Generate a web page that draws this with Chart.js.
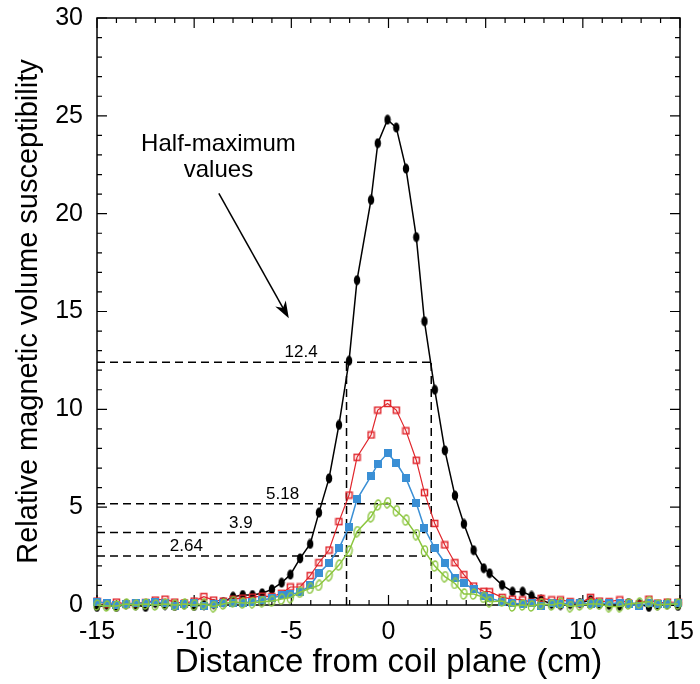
<!DOCTYPE html>
<html>
<head>
<meta charset="utf-8">
<script src="https://cdn.jsdelivr.net/npm/chart.js@4.4.0/dist/chart.umd.min.js"></script>
<style>
html, body { margin: 0; padding: 0; background: #fff; }
#wrap { width: 700px; height: 684px; }
</style>
</head>
<body>
<div id="wrap"><canvas id="susChart"></canvas></div>
<script>
// distance from coil plane (cm)
const positions = [
  -15, -14.5, -14, -13.5, -13, -12.5, -12, -11.5, -11, -10.5,
  -10, -9.5, -9, -8.5, -8, -7.5, -7, -6.5, -6, -5.5,
  -5.05, -4.55, -4.03, -3.58, -3.06, -2.55, -2.03, -1.62, -0.9, -0.55,
  -0.05, 0.4, 0.9, 1.43, 1.85, 2.38, 2.9, 3.42, 3.88, 4.38,
  4.9, 5.2, 5.85, 6.38, 6.9, 7.36, 7.85, 8.4, 8.85, 9.35,
  9.85, 10.4, 10.85, 11.35, 11.9, 12.35, 12.9, 13.4, 13.85, 14.35,
  14.9
];
const blackVals = [
  -0.1, 0.0, -0.1, 0.05, 0.0, -0.1, 0.1, 0.0, -0.05, 0.05,
  -0.05, 0.0, 0.05, 0.15, 0.42, 0.51, 0.51, 0.6, 0.8, 1.14,
  1.55, 2.38, 3.12, 4.72, 6.47, 9.2, 12.48, 16.6, 20.7, 23.6,
  24.8, 24.4, 22.3, 18.8, 14.5, 11.0, 7.9, 5.59, 4.14, 2.8,
  1.88, 1.62, 1.02, 0.68, 0.68, 0.46, 0.26, 0.05, 0.0, 0.05,
  0.1, 0.25, 0.05, 0.0, -0.05, 0.1, 0.05, -0.1, 0.0, 0.05,
  -0.05
];
const redVals = [
  0.2, 0.05, 0.15, 0.05, 0.1, 0.12, 0.25, 0.3, 0.15, 0.1,
  0.2, 0.43, 0.25, 0.2, 0.3, 0.35, 0.4, 0.45, 0.43, 0.6,
  0.92, 0.92, 1.5, 2.16, 2.81, 4.26, 5.62, 7.55, 8.69, 9.96,
  10.3, 9.96, 8.9, 7.4, 5.74, 4.17, 3.07, 2.16, 1.55, 0.97,
  0.7, 0.68, 0.39, 0.3, 0.26, 0.15, 0.34, 0.26, 0.26, 0.17,
  0.1, 0.39, 0.2, 0.17, 0.26, 0.1, 0.05, 0.3, 0.1, 0.15,
  0.14
];
const blueVals = [
  0.15, 0.1, 0.0, 0.05, 0.09, 0.1, 0.17, 0.1, -0.05, 0.05,
  0.12, -0.05, 0.05, 0.09, 0.1, 0.12, 0.17, 0.25, 0.35, 0.5,
  0.55, 0.64, 1.0, 1.62, 2.14, 2.9, 4.0, 5.4, 6.59, 7.2,
  7.75, 7.27, 6.47, 5.2, 3.92, 2.9, 2.16, 1.36, 1.12, 0.8,
  0.45, 0.35, 0.17, 0.09, 0.05, 0.1, -0.05, 0.1, 0.05, 0.1,
  0.12, 0.05, 0.1, 0.08, 0.1, 0.04, -0.05, 0.1, 0.04, 0.05,
  0.1
];
const greenVals = [
  0.0, -0.05, -0.05, 0.05, 0.0, 0.05, 0.0, 0.05, 0.0, 0.05,
  0.0, 0.05, -0.08, 0.05, 0.17, 0.1, 0.12, 0.17, 0.2, 0.3,
  0.38, 0.65, 0.85, 1.0, 1.5, 2.04, 2.76, 3.75, 4.51, 5.11,
  5.23, 4.82, 4.34, 3.6, 2.77, 1.99, 1.45, 1.1, 0.56, 0.56,
  0.39, 0.17, 0.2, -0.05, 0.0, -0.05, 0.05, 0.0, 0.1, -0.08,
  0.0, 0.05, 0.05, -0.08, -0.08, 0.05, 0.1, 0.17, 0.0, 0.04,
  0.05
];

// half-maximum guide lines
const hmLabels = ['12.4', '5.18', '3.9', '2.64'];
const hmLevels = [12.4, 5.18, 3.7, 2.5];
const hmEnds = [2.2, 2.2, 1.9, 1.9];
const hmEdges = [-2.16, 2.2];

const FONT = "'Liberation Sans', Arial, sans-serif";

function marker(w, h, draw) {
  const c = document.createElement('canvas');
  c.width = w; c.height = h;
  draw(c.getContext('2d'), w, h);
  return c;
}
const blackDot = marker(8, 11, (g, w, h) => {
  g.fillStyle = '#000';
  g.beginPath(); g.ellipse(w / 2, h / 2, 3.2, 5, 0, 0, Math.PI * 2); g.fill();
});
const redSquare = marker(9, 9, (g) => {
  g.strokeStyle = '#e0262c'; g.lineWidth = 1.5;
  g.strokeRect(1.5, 1.5, 6, 6);
});
const blueSquare = marker(8, 8, (g) => {
  g.fillStyle = '#3a8fd5'; g.fillRect(0, 0, 8, 8);
});
const greenRing = marker(9, 12, (g, w, h) => {
  g.strokeStyle = '#8cc63f'; g.lineWidth = 1.4;
  g.beginPath(); g.ellipse(w / 2, h / 2, 3, 5, 0.15, 0, Math.PI * 2); g.stroke();
});

const pts = (vals) => positions.map((x, i) => ({ x: x, y: vals[i] }));

function series(vals, color, style, width, order) {
  return {
    data: pts(vals), borderColor: color, backgroundColor: color,
    borderWidth: width, pointStyle: style, pointRadius: 5,
    tension: 0, order: order, clip: false
  };
}
function guide(data) {
  return {
    data: data, borderColor: '#000', borderWidth: 1.5, borderDash: [8, 5],
    pointRadius: 0, tension: 0, order: 10
  };
}

const datasets = [
  series(greenVals, '#8cc63f', greenRing, 1.5, 1),
  series(blueVals, '#3a8fd5', blueSquare, 1.5, 2),
  series(redVals, '#e0262c', redSquare, 1.2, 3),
  series(blackVals, '#000', blackDot, 1.5, 4)
];
hmLevels.forEach((lv, i) => datasets.push(guide([{ x: -15, y: lv }, { x: hmEnds[i], y: lv }])));
hmEdges.forEach(x => datasets.push(guide([{ x: x, y: 0 }, { x: x, y: hmLevels[0] }])));

// frame with inward ticks on all four sides
const framePlugin = {
  id: 'frame',
  beforeDatasetsDraw(chart) {
    const { ctx, chartArea: a, scales: { x, y } } = chart;
    ctx.save();
    ctx.strokeStyle = '#000';
    ctx.lineWidth = 1.5;
    ctx.strokeRect(a.left, a.top, a.right - a.left, a.bottom - a.top);
    ctx.lineWidth = 1.2;
    ctx.beginPath();
    for (let v = -15; v <= 15; v++) {
      const px = x.getPixelForValue(v), len = v % 5 === 0 ? 10 : 5;
      ctx.moveTo(px, a.bottom); ctx.lineTo(px, a.bottom - len);
      ctx.moveTo(px, a.top); ctx.lineTo(px, a.top + len);
    }
    for (let v = 0; v <= 30; v++) {
      const py = y.getPixelForValue(v), len = v % 5 === 0 ? 10 : 5;
      ctx.moveTo(a.left, py); ctx.lineTo(a.left + len, py);
      ctx.moveTo(a.right, py); ctx.lineTo(a.right - len, py);
    }
    ctx.stroke();
    ctx.restore();
  }
};

// labels of the guide lines and the "Half-maximum values" note
const notePlugin = {
  id: 'notes',
  afterDatasetsDraw(chart) {
    const { ctx, scales: { x, y } } = chart;
    const labelX = [-4.5, -5.45, -7.6, -10.4];
    ctx.save();
    ctx.fillStyle = '#000';
    ctx.textAlign = 'center';
    ctx.textBaseline = 'alphabetic';
    ctx.font = '17px ' + FONT;
    hmLabels.forEach((t, i) => {
      ctx.fillText(t, x.getPixelForValue(labelX[i]), y.getPixelForValue(hmLevels[i]) - 5);
    });
    ctx.font = '24px ' + FONT;
    const cx = x.getPixelForValue(-8.75);
    ctx.fillText('Half-maximum', cx, y.getPixelForValue(23.2));
    ctx.fillText('values', cx, y.getPixelForValue(21.85));
    // arrow
    const x0 = x.getPixelForValue(-8.73), y0 = y.getPixelForValue(21.04);
    const x1 = x.getPixelForValue(-5.13), y1 = y.getPixelForValue(14.65);
    const ang = Math.atan2(y1 - y0, x1 - x0);
    ctx.strokeStyle = '#000';
    ctx.lineWidth = 1.5;
    ctx.beginPath();
    ctx.moveTo(x0, y0);
    ctx.lineTo(x1 - 10 * Math.cos(ang), y1 - 10 * Math.sin(ang));
    ctx.stroke();
    ctx.beginPath();
    ctx.moveTo(x1, y1);
    ctx.lineTo(x1 - 17 * Math.cos(ang) + 6 * Math.sin(ang), y1 - 17 * Math.sin(ang) - 6 * Math.cos(ang));
    ctx.lineTo(x1 - 12 * Math.cos(ang), y1 - 12 * Math.sin(ang));
    ctx.lineTo(x1 - 17 * Math.cos(ang) - 6 * Math.sin(ang), y1 - 17 * Math.sin(ang) + 6 * Math.cos(ang));
    ctx.closePath();
    ctx.fill();
    ctx.restore();
  }
};

const ctx = document.getElementById('susChart').getContext('2d');
const chart = new Chart(ctx, {
  type: 'line',
  data: { datasets: datasets },
  options: {
    responsive: true,
    maintainAspectRatio: false,
    animation: false,
    layout: { padding: { top: 18, right: 20, left: 0, bottom: 0 } },
    plugins: { legend: { display: false }, tooltip: { enabled: false } },
    scales: {
      x: {
        type: 'linear', min: -15, max: 15,
        ticks: { stepSize: 5, color: '#000', padding: 12, maxRotation: 0, font: { family: FONT, size: 25 } },
        grid: { display: false, drawTicks: false },
        border: { display: false },
        title: {
          display: true, text: 'Distance from coil plane (cm)', color: '#000',
          font: { family: FONT, size: 33 }, padding: { top: 0, bottom: 1 }
        },
        afterFit(s) { s.height = 79; s.paddingLeft = 0; s.paddingRight = 0; }
      },
      y: {
        type: 'linear', min: 0, max: 30,
        ticks: { stepSize: 5, color: '#000', padding: 14, font: { family: FONT, size: 25 } },
        grid: { display: false, drawTicks: false },
        border: { display: false },
        title: {
          display: true, text: 'Relative magnetic volume susceptibility', color: '#000',
          font: { family: FONT, size: 29 }, padding: { top: 12, bottom: 0 }
        },
        afterFit(s) { s.width = 97; s.paddingTop = 0; s.paddingBottom = 0; }
      }
    }
  },
  plugins: [framePlugin, notePlugin]
});
</script>
</body>
</html>
